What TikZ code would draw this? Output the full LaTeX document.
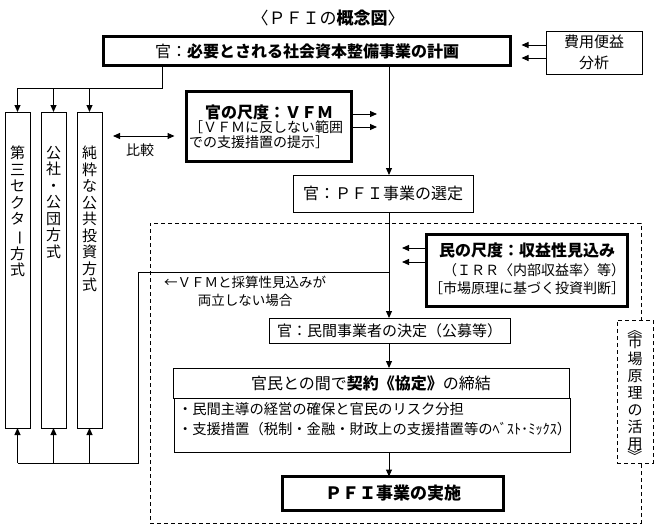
\documentclass[tikz,border=0pt]{standalone}
\usepackage{fontspec}
\usepackage{graphicx}
\setmainfont{Noto Sans CJK JP}
\usetikzlibrary{arrows.meta}
\newcommand\pfichoon{\rotatebox[origin=c]{-90}{ー}}
\newcommand\pfivopen{\rotatebox[origin=c]{-90}{《}}
\newcommand\pfivclose{\rotatebox[origin=c]{-90}{》}}
\begin{document}
\begin{tikzpicture}[x=1pt,y=-1pt,line width=1pt,
  every node/.style={inner sep=0pt,outer sep=0pt},
  boxthin/.style={draw,line width=1pt},
  boxthick/.style={draw,line width=3pt},
  dashbox/.style={draw,dash pattern=on 4pt off 3pt,line width=1pt},
  arr/.style={-{Triangle[length=7pt,width=6pt]}},
  dbl/.style={{Triangle[length=7pt,width=6pt]}-{Triangle[length=7pt,width=6pt]}},
  fsa/.style={font=\fontsize{13.5}{18}\selectfont},
  fsb/.style={font=\fontsize{14}{15}\selectfont},
  fsbb/.style={font=\fontsize{14.3}{15}\selectfont},
  fsc/.style={font=\fontsize{15}{16}\selectfont},
  fsd/.style={font=\fontsize{16}{18}\selectfont},
  fse/.style={font=\fontsize{17}{18}\selectfont},
  vtext/.style={align=center,font=\fontsize{15}{16.5}\selectfont},
  vtextb/.style={align=center,font=\fontsize{15}{17}\selectfont}
]
\useasboundingbox (0,0) rectangle (660,530);
% market region
\node[dashbox,minimum width=491pt,minimum height=300pt] (mkt) at (395.5,373) {};

% title
\node[fse] (title) at (328,18) {〈ＰＦＩの\textbf{概念図}〉};

% top plan
\node[boxthick,minimum width=407pt,minimum height=29pt,fsd] (plan) at (307,51) {官：\textbf{必要とされる社会資本整備事業の計画}};
\node[boxthin,minimum width=96pt,minimum height=43pt,align=center,font=\fontsize{15}{21}\selectfont] (cba) at (594,52.5) {費用便益\\分析};

% vertical boxes
\node[boxthin,minimum width=25pt,minimum height=316pt] (v1) at (17.5,270) {};
\node[boxthin,minimum width=25pt,minimum height=316pt] (v2) at (53.5,270) {};
\node[boxthin,minimum width=25pt,minimum height=316pt] (v3) at (89.5,270) {};
\node[vtext,anchor=north] (t1) at (17.5,146) {第\\三\\セ\\ク\\タ\\\pfichoon\\方\\式};
\node[vtext,anchor=north] (t2) at (53.5,146) {公\\社\\・\\公\\団\\方\\式};
\node[vtext,anchor=north] (t3) at (89.5,146) {純\\粋\\な\\公\\共\\投\\資\\方\\式};

% VFM
\node[boxthick,minimum width=165pt,minimum height=70pt] (vfm) at (269,126.5) {};
\node[fsd] (vfmt) at (269,112) {\textbf{官の尺度：ＶＦＭ}};
\node[fsb,anchor=west] (vfm2) at (189,127) {［ＶＦＭに反しない範囲};
\node[fsb,anchor=west] (vfm3) at (189,142) {での支援措置の提示］};
\node[fsb] (cmp) at (140,150) {比較};

% selection
\node[boxthin,minimum width=180pt,minimum height=37pt,fsd] (sel) at (383,193.5) {官：ＰＦＩ事業の選定};

% private measure
\node[boxthick,minimum width=201pt,minimum height=72pt] (minb) at (527,270.5) {};
\node[fsd] (minbt) at (527,250) {\textbf{民の尺度：収益性見込み}};
\node[fsb,anchor=east] (minb2) at (625,270) {（ＩＲＲ〈内部収益率〉等）};
\node[fsb,anchor=east] (minb3) at (625,288) {［市場原理に基づく投資判断］};

\node[fsa,align=center] (note) at (245,291) {←ＶＦＭと採算性見込みが\\両立しない場合};

% decision, contract, implementation
\node[boxthin,minimum width=241pt,minimum height=25pt,fsc] (dec) at (389.5,330.5) {官：民間事業者の決定（公募等）};
\node[boxthin,minimum width=396pt,minimum height=30pt,fsd] (con) at (371,383) {官民との間で\textbf{契約《協定》}の締結};
\node[boxthin,minimum width=396pt,minimum height=54pt] (sub) at (372,425) {};
\node[fsbb,anchor=west] (sub1) at (178,409) {・民間主導の経営の確保と官民のリスク分担};
\node[fsbb,anchor=west] (sub2) at (178,429) {・支援措置（税制・金融・財政上の支援措置等のﾍﾞｽﾄ･ﾐｯｸｽ）};
\node[boxthick,minimum width=221pt,minimum height=34pt,fse] (impl) at (393,493.5) {\textbf{ＰＦＩ事業の実施}};

% market principle box
\node[dashbox,fill=white,minimum width=36pt,minimum height=143pt] (mkb) at (635,391.5) {};
\node[vtextb] (mkbt) at (635,393) {\pfivopen\\[-5pt]市\\場\\原\\理\\の\\活\\用\\[-5pt]\pfivclose};

% coordinates
\coordinate (mx) at (389,0);
\coordinate (j) at (162,88);
\coordinate (r1) at (389,272);
\coordinate (r2) at (138,272);
\coordinate (r3) at (138,463);

% main flow
\draw[arr] (plan.south -| mx) -- (sel.north -| mx);
\draw[arr] (sel.south -| mx) -- (dec.north -| mx);
\draw[arr] (dec.south -| mx) -- (con.north -| mx);
\draw[arr] (sub.south -| mx) -- (impl.north -| mx);

% cost-benefit arrows
\draw[arr,shorten >=11pt] (cba.west |- 0,45) -- (plan.east |- 0,45);
\draw[arr,shorten >=11pt] (cba.west |- 0,58) -- (plan.east |- 0,58);

% VFM arrows
\draw[arr,shorten >=12pt] (vfm.east |- 0,114) -- (mx |- 0,114);
\draw[arr,shorten >=12pt] (vfm.east |- 0,127) -- (mx |- 0,127);

% private measure arrows
\draw[arr,shorten >=13pt] (minb.west |- 0,248) -- (mx |- 0,248);
\draw[arr,shorten >=13pt] (minb.west |- 0,262) -- (mx |- 0,262);

% left tree
\draw (plan.south -| j) -- (j) -- (j -| v1);
\draw[arr] (j -| v1) -- (v1.north);
\draw[arr] (j -| v2) -- (v2.north);
\draw[arr] (j -| v3) -- (v3.north);

% comparison
\draw[dbl,shorten <=11pt,shorten >=12pt] (v3.east |- 0,136) -- (vfm.west |- 0,136);

% return path
\draw (r1) -- (r2) -- (r3) -- (r3 -| v1);
\draw[arr] (r3 -| v1) -- (v1.south);
\draw[arr] (r3 -| v2) -- (v2.south);
\draw[arr] (r3 -| v3) -- (v3.south);
\end{tikzpicture}
\end{document}
